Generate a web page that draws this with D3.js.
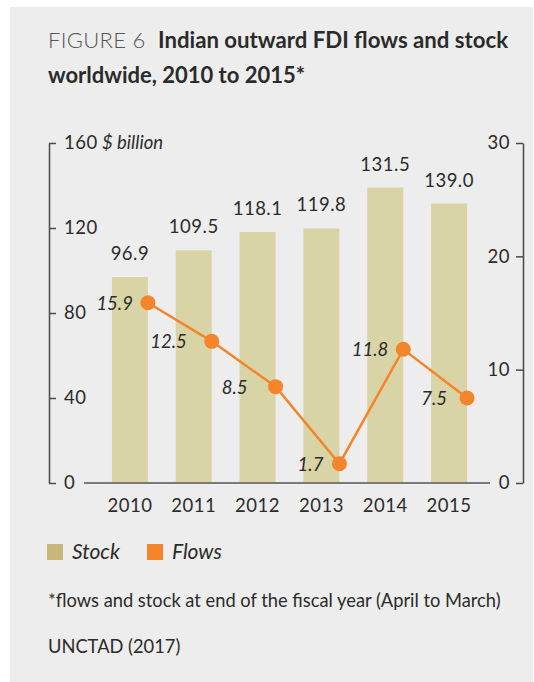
<!DOCTYPE html>
<html>
<head>
<meta charset="utf-8">
<script src="https://cdn.jsdelivr.net/npm/d3@7"></script>
<style>
  html, body { margin: 0; padding: 0; background: #ffffff; }
  svg { display: block; font-family: Lato, "Open Sans", sans-serif; }
</style>
</head>
<body>
<svg id="chart" width="534" height="682"></svg>
<script>
// ---- data ----
const years = ["2010", "2011", "2012", "2013", "2014", "2015"];
const stockBarValues = [96.9, 109.5, 118.1, 119.8, 139.0, 131.5]; // bar heights as drawn
const stockLabels = ["96.9", "109.5", "118.1", "119.8", "131.5", "139.0"]; // labels as printed
const flowValues = [15.9, 12.5, 8.5, 1.7, 11.8, 7.5];
const leftTicks = [0, 40, 80, 120, 160];
const rightTicks = [0, 10, 20, 30];
const flowLabelDx = [-15, -25, -28, -16, -15, -20];

const svg = d3.select("#chart");
const textColor = "#2b2b2b";
const axisColor = "#4a4a4a";
const numSize = 18.5;
const numSpacing = 0.5;

svg.append("rect").attr("x", 10).attr("y", 7).attr("width", 523).attr("height", 675).attr("fill", "#ededed");

// title
const title = svg.append("text").attr("x", 48).attr("y", 48).attr("fill", textColor);
title.append("tspan").attr("font-weight", 300).attr("font-size", 22).attr("letter-spacing", 0.3)
  .attr("fill", "#555").text("FIGURE 6");
title.append("tspan").attr("font-weight", 700).attr("font-size", 22.2).attr("x", 158)
  .text("Indian outward FDI flows and stock");
svg.append("text").attr("x", 48).attr("y", 83).attr("font-size", 22).attr("font-weight", 700)
  .attr("fill", textColor).text("worldwide, 2010 to 2015*");

// scales
const x = d3.scaleBand().domain(years).range([80, 499]).paddingInner(0.436).paddingOuter(0.5);
const yL = d3.scaleLinear().domain([0, 160]).range([483, 143]);
const yR = d3.scaleLinear().domain([0, 30]).range([483, 143]);

// bars
svg.append("g").selectAll("rect").data(years).join("rect")
  .attr("x", d => x(d)).attr("width", x.bandwidth())
  .attr("y", (d, i) => yL(stockBarValues[i]))
  .attr("height", (d, i) => yL(0) - yL(stockBarValues[i]))
  .attr("fill", "#d8d4a6");

// stock labels
svg.append("g").selectAll("text").data(years).join("text")
  .attr("x", d => x(d) + x.bandwidth() / 2)
  .attr("y", (d, i) => yL(stockBarValues[i]) - 17)
  .attr("text-anchor", "middle").attr("font-size", numSize).attr("letter-spacing", numSpacing)
  .attr("fill", textColor)
  .text((d, i) => stockLabels[i]);

// baseline
svg.append("line").attr("x1", 84).attr("x2", 490).attr("y1", yL(0)).attr("y2", yL(0))
  .attr("stroke", "#7a7a7a").attr("stroke-width", 2);

// left axis
const gL = svg.append("g").attr("transform", "translate(49,0)")
  .call(d3.axisRight(yL).tickValues(leftTicks).tickSize(7).tickSizeOuter(0).tickPadding(8));
gL.selectAll("path, line").attr("stroke", axisColor).attr("stroke-width", 1.5);
gL.selectAll("text").attr("font-size", numSize).attr("letter-spacing", numSpacing)
  .attr("fill", textColor).attr("font-family", "Lato, sans-serif");
gL.selectAll(".tick").filter(d => d === 160).select("text")
  .append("tspan").attr("font-style", "italic").attr("letter-spacing", 0).text(" $ billion");

// right axis
const gR = svg.append("g").attr("transform", "translate(523,0)")
  .call(d3.axisLeft(yR).tickValues(rightTicks).tickSize(7).tickSizeOuter(0).tickPadding(6));
gR.selectAll("path, line").attr("stroke", axisColor).attr("stroke-width", 1.5);
gR.selectAll("text").attr("font-size", numSize).attr("letter-spacing", numSpacing)
  .attr("fill", textColor).attr("font-family", "Lato, sans-serif");

// x axis labels
svg.append("g").selectAll("text").data(years).join("text")
  .attr("x", d => x(d) + x.bandwidth() / 2).attr("y", 512)
  .attr("text-anchor", "middle").attr("font-size", numSize).attr("letter-spacing", numSpacing)
  .attr("fill", textColor)
  .text(d => d);

// flows line
const px = d => x(d) + x.bandwidth();
const line = d3.line().x((d, i) => px(years[i])).y(d => yR(d));
svg.append("path").datum(flowValues).attr("d", line)
  .attr("fill", "none").attr("stroke", "#f5852a").attr("stroke-width", 2.5);
svg.append("g").selectAll("circle").data(flowValues).join("circle")
  .attr("cx", (d, i) => px(years[i])).attr("cy", d => yR(d)).attr("r", 7.5)
  .attr("fill", "#f5852a");
svg.append("g").selectAll("text").data(flowValues).join("text")
  .attr("x", (d, i) => px(years[i]) + flowLabelDx[i]).attr("y", d => yR(d))
  .attr("dy", "0.38em").attr("text-anchor", "end").attr("font-size", numSize)
  .attr("font-style", "italic").attr("fill", textColor)
  .text(d => d.toFixed(1));

// legend
const legend = [{ label: "Stock", color: "#c7b77b", x: 47 }, { label: "Flows", color: "#f5852a", x: 147 }];
const lg = svg.append("g").selectAll("g").data(legend).join("g");
lg.append("rect").attr("x", d => d.x).attr("y", 544).attr("width", 16).attr("height", 16).attr("fill", d => d.color);
lg.append("text").attr("x", d => d.x + 25).attr("y", 559).attr("font-size", 21).attr("font-style", "italic")
  .attr("fill", textColor).text(d => d.label);

// footnotes
svg.append("text").attr("x", 48).attr("y", 607).attr("font-size", 18.3).attr("fill", textColor)
  .text("*flows and stock at end of the fiscal year (April to March)");
svg.append("text").attr("x", 48).attr("y", 653).attr("font-size", 18.3).attr("fill", textColor)
  .text("UNCTAD (2017)");
</script>
</body>
</html>
